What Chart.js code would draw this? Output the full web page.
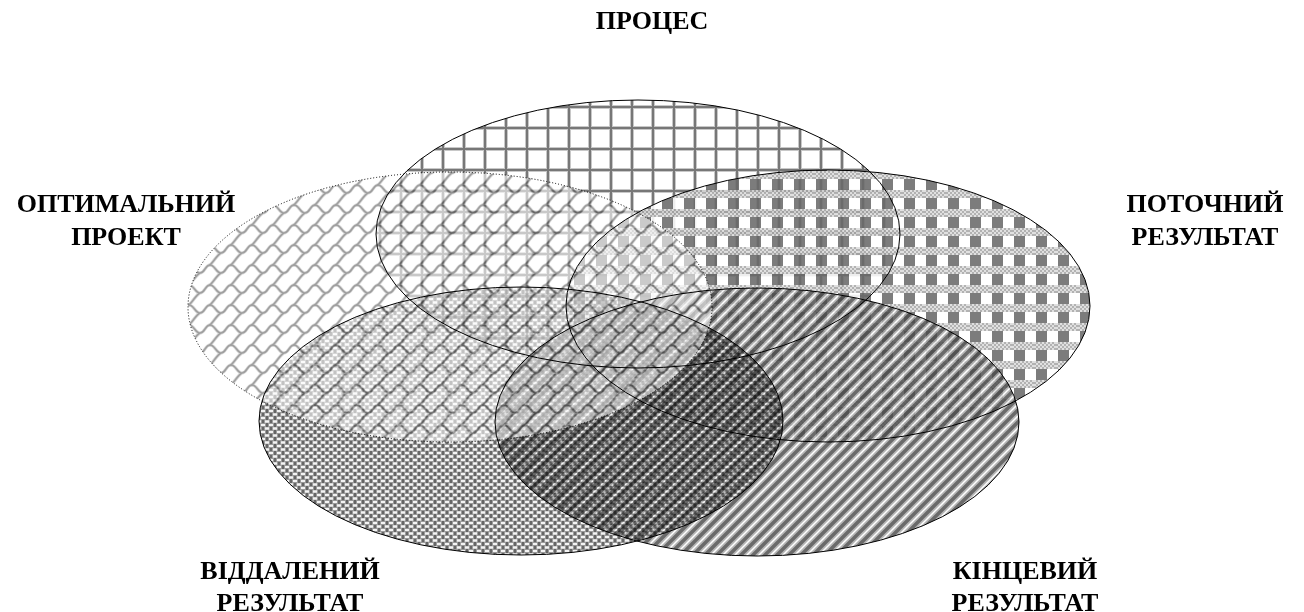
<!DOCTYPE html>
<html>
<head>
<meta charset="utf-8">
<script src="https://cdn.jsdelivr.net/npm/chart.js@4"></script>
<style>
  html, body { margin: 0; padding: 0; background: #fff; }
  #wrap { width: 1304px; height: 612px; position: relative; }
</style>
</head>
<body>
<div id="wrap"><canvas id="venn"></canvas></div>
<script>
// --- data (units of the chart's own x/y scales) ---
const names = ['ПРОЦЕС', 'ОПТИМАЛЬНИЙ ПРОЕКТ', 'ПОТОЧНИЙ РЕЗУЛЬТАТ', 'ВІДДАЛЕНИЙ РЕЗУЛЬТАТ', 'КІНЦЕВИЙ РЕЗУЛЬТАТ'];
const labelLines = [['ПРОЦЕС'], ['ОПТИМАЛЬНИЙ', 'ПРОЕКТ'], ['ПОТОЧНИЙ', 'РЕЗУЛЬТАТ'], ['ВІДДАЛЕНИЙ', 'РЕЗУЛЬТАТ'], ['КІНЦЕВИЙ', 'РЕЗУЛЬТАТ']];
const centerX = [638, 450, 828, 521, 757];
const centerY = [234, 307, 306, 421, 422];
const radiusX = [262, 262, 262, 262, 262];
const radiusY = [134, 135, 136, 134, 134];

// --- fill patterns ---
function tile(w, h, draw) {
  const c = document.createElement('canvas');
  c.width = w; c.height = h;
  const g = c.getContext('2d');
  g.fillStyle = '#fff';
  g.fillRect(0, 0, w, h);
  draw(g, w, h);
  return c;
}

const gridTile = tile(21, 21, g => {
  g.fillStyle = '#c8c8c8';
  g.fillRect(0, 0, 4, 21); g.fillRect(0, 0, 21, 4);
  g.fillStyle = '#777';
  g.fillRect(1, 0, 2, 21); g.fillRect(0, 1, 21, 2);
});

const scaleTile = tile(21, 20, (g, w, h) => {
  g.lineCap = 'round';
  for (const pass of [['#bdbdbd', 3.2], ['#606060', 1.6]]) {
    g.strokeStyle = pass[0];
    g.lineWidth = pass[1];
    for (const dx of [-w, 0, w]) for (const dy of [-h, 0, h]) {
      g.beginPath();
      g.moveTo(dx, dy + 5);
      g.bezierCurveTo(dx + 5, dy + 5, dx + 6, dy + 13, dx + 11, dy + 13);
      g.bezierCurveTo(dx + 16, dy + 13, dx + 16, dy + 5, dx + 21, dy + 5);
      g.moveTo(dx + 11, dy + 13);
      g.bezierCurveTo(dx + 7, dy + 15, dx + 5, dy + 20, dx, dy + 25);
      g.stroke();
    }
  }
});

const plaidTile = tile(22, 19, g => {
  g.fillStyle = '#6a6a6a';
  g.fillRect(2, 0, 11, 19);
  for (let x = 0; x < 22; x += 2) for (let y = 0; y < 8; y += 2) {
    g.fillStyle = ((x + y) / 2) % 2 ? '#a8a8a8' : '#dcdcdc';
    g.fillRect(x, y, 2, 2);
  }
});

const dotTile = tile(8, 7, g => {
  g.fillStyle = '#666';
  g.fillRect(0, 0, 8, 7);
  g.fillStyle = '#9a9a9a';
  g.fillRect(0, 0, 6, 3); g.fillRect(4, 3, 4, 4); g.fillRect(0, 3, 2, 4);
  g.fillStyle = '#f4f4f4';
  g.fillRect(1, 1, 4, 1); g.fillRect(5, 4, 3, 2); g.fillRect(0, 4, 1, 2);
  g.fillStyle = '#d8d8d8';
  g.fillRect(1, 0, 4, 1); g.fillRect(1, 2, 4, 1);
});

const stripeTile = tile(12, 12, g => {
  const seg = [[-6, 6, 6, -6], [0, 12, 12, 0], [6, 18, 18, 6]];
  g.lineCap = 'square';
  g.strokeStyle = '#a8a8a8'; g.lineWidth = 7;
  seg.forEach(s => { g.beginPath(); g.moveTo(s[0], s[1]); g.lineTo(s[2], s[3]); g.stroke(); });
  g.strokeStyle = '#4a4a4a'; g.lineWidth = 3.6;
  seg.forEach(s => { g.beginPath(); g.moveTo(s[0], s[1]); g.lineTo(s[2], s[3]); g.stroke(); });
});

const tiles = [gridTile, scaleTile, plaidTile, dotTile, stripeTile];
// draw order and blending of each ellipse (index into the arrays above)
const drawOrder = [
  { i: 0, alpha: 1, mode: 'source-over' },
  { i: 2, alpha: 0.88, mode: 'source-over' },
  { i: 4, alpha: 0.82, mode: 'source-over' },
  { i: 3, alpha: 1, mode: 'multiply' },
  { i: 1, alpha: 0.6, mode: 'source-over' }
];

const labelPos = [
  { x: 652, y: [22] },
  { x: 126, y: [205, 238] },
  { x: 1205, y: [205, 238] },
  { x: 290, y: [572, 604] },
  { x: 1025, y: [572, 604] }
];

const ellipsePlugin = {
  id: 'ellipses',
  afterDatasetsDraw(chart) {
    const ctx = chart.ctx;
    const xs = chart.scales.x, ys = chart.scales.y;
    const geom = names.map((n, i) => {
      const cx = xs.getPixelForValue(centerX[i]);
      const cy = ys.getPixelForValue(centerY[i]);
      const rx = Math.abs(xs.getPixelForValue(centerX[i] + radiusX[i]) - cx);
      const ry = Math.abs(ys.getPixelForValue(centerY[i] + radiusY[i]) - cy);
      return { cx, cy, rx, ry };
    });
    ctx.save();
    drawOrder.forEach(d => {
      const e = geom[d.i];
      ctx.globalAlpha = d.alpha;
      ctx.globalCompositeOperation = d.mode;
      ctx.fillStyle = ctx.createPattern(tiles[d.i], 'repeat');
      ctx.beginPath();
      ctx.ellipse(e.cx, e.cy, e.rx, e.ry, 0, 0, Math.PI * 2);
      ctx.fill();
    });
    ctx.globalAlpha = 1;
    ctx.globalCompositeOperation = 'source-over';
    ctx.strokeStyle = '#000';
    ctx.lineWidth = 1;
    geom.forEach((e, i) => {
      ctx.setLineDash(i === 1 ? [1, 2] : []);
      ctx.beginPath();
      ctx.ellipse(e.cx, e.cy, e.rx, e.ry, 0, 0, Math.PI * 2);
      ctx.stroke();
    });
    ctx.setLineDash([]);
    // labels
    ctx.fillStyle = '#000';
    ctx.font = 'bold 26px "Liberation Serif", "Times New Roman", serif';
    ctx.textBaseline = 'middle';
    ctx.textAlign = 'center';
    labelLines.forEach((lines, i) => {
      const p = labelPos[i];
      lines.forEach((t, k) => ctx.fillText(t, p.x, p.y[k]));
    });
    ctx.restore();
  }
};

new Chart(document.getElementById('venn'), {
  type: 'scatter',
  data: {
    datasets: names.map((n, i) => ({
      label: n,
      data: [{ x: centerX[i], y: centerY[i] }],
      pointRadius: 0
    }))
  },
  options: {
    responsive: true,
    maintainAspectRatio: false,
    animation: false,
    layout: { padding: 0 },
    plugins: { legend: { display: false }, tooltip: { enabled: false } },
    scales: {
      x: { type: 'linear', min: 0, max: 1304, display: false },
      y: { type: 'linear', min: 0, max: 612, reverse: true, display: false }
    }
  },
  plugins: [ellipsePlugin]
});
</script>
</body>
</html>
